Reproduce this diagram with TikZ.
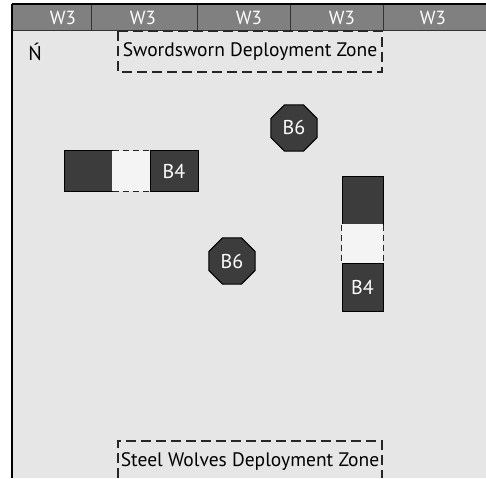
\documentclass[tikz,border=0pt]{standalone}
\usepackage{fontspec}
\setmainfont{PT Sans}
\usetikzlibrary{shapes.geometric}

\definecolor{field}{HTML}{E6E6E6}
\definecolor{barfill}{HTML}{808080}
\definecolor{ruinfill}{HTML}{3C3C3C}
\definecolor{gapfill}{HTML}{F4F4F4}

\begin{document}
\begin{tikzpicture}[
    x=1pt,y=-1pt,
    wallcell/.style={
      draw=black!80,fill=barfill,line width=1pt
    },
    walllabel/.style={
      text=white,font=\fontsize{19}{21}\selectfont
    },
    ruin/.style={
      rectangle,draw=black,fill=ruinfill,line width=1pt,
      text=white,font=\fontsize{20}{22}\selectfont,inner sep=0pt
    },
    pillar/.style={
      regular polygon,regular polygon sides=8,minimum size=50pt,
      draw=black,fill=ruinfill,line width=1pt,inner sep=0pt,
      text=white,font=\fontsize{20}{22}\selectfont
    },
    zoneline/.style={
      draw=black!85,line width=1.2pt,dash pattern=on 10pt off 5pt
    },
    zonelabel/.style={
      font=\fontsize{19.5}{22}\selectfont,inner sep=0pt
    }
  ]
    \useasboundingbox (0,0) rectangle (486,478);
    \fill[field] (12,4) rectangle (486,478);

    % wall sections along the top edge
    \foreach \xa/\xb/\xt [count=\i] in {12/91/63,91/197/143,197/290/249,290/383/342,383/486/433} {
      \draw[wallcell] (\xa,4) rectangle (\xb,31);
      \node[walllabel] (wall\i) at (\xt,17.5) {W3};
    }
    \draw[black,line width=1.5pt] (12,4) -- (486,4);
    \draw[black,line width=1.2pt] (12,4) -- (12,478);

    % north marker
    \node[font=\fontsize{20}{22}\selectfont] (north) at (35,52) {\'N};

    % deployment zones
    \draw[zoneline] (118,31) rectangle (382,72);
    \node[zonelabel] (swordsworn) at (250,52) {Swordsworn Deployment Zone};
    \draw[zoneline] (118,478) |- (382,441) -- (382,478);
    \node[zonelabel] (steelwolves) at (250,462) {Steel Wolves Deployment Zone};

    % left ruin
    \node[ruin,minimum width=48pt,minimum height=40pt] (ruinLa) at (88,171) {};
    \node[rectangle,fill=gapfill,minimum width=38pt,minimum height=40pt] (ruinLgap) at (131,171) {};
    \node[ruin,minimum width=48pt,minimum height=40pt] (ruinLb) at (174,171) {B4};
    \draw[zoneline,line width=1pt,dash pattern=on 6pt off 4pt] (ruinLa.north east) -- (ruinLb.north west);
    \draw[zoneline,line width=1pt,dash pattern=on 6pt off 4pt] (ruinLa.south east) -- (ruinLb.south west);

    % right ruin
    \node[ruin,minimum width=41pt,minimum height=47pt] (ruinRa) at (362.5,200.5) {};
    \node[rectangle,fill=gapfill,minimum width=41pt,minimum height=39pt] (ruinRgap) at (362.5,243.5) {};
    \node[ruin,minimum width=41pt,minimum height=48pt] (ruinRb) at (362.5,287) {B4};
    \draw[zoneline,line width=1pt,dash pattern=on 6pt off 4pt] (ruinRa.south west) -- (ruinRb.north west);
    \draw[zoneline,line width=1pt,dash pattern=on 6pt off 4pt] (ruinRa.south east) -- (ruinRb.north east);

    % pillars
    \node[pillar] (pillarN) at (294,128) {B6};
    \node[pillar] (pillarS) at (232,261) {B6};
\end{tikzpicture}
\end{document}
